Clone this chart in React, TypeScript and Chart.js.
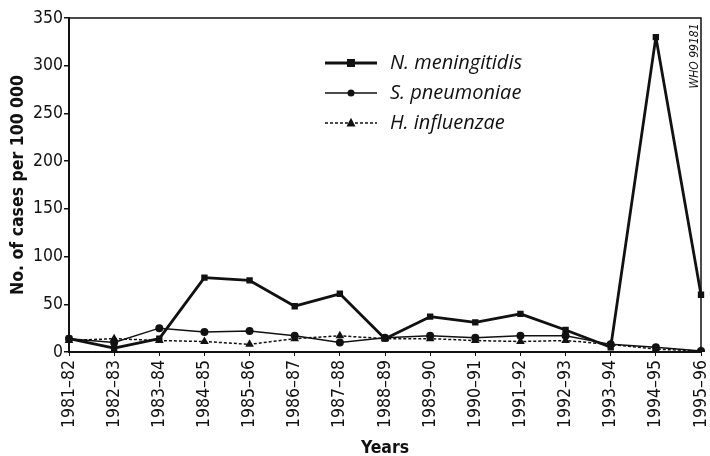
import React, { useEffect, useRef } from "react";
import { Chart, registerables } from "chart.js";

Chart.register(...registerables);

const categories = [
  "1981–82", "1982–83", "1983–84", "1984–85", "1985–86", "1986–87", "1987–88",
  "1988–89", "1989–90", "1990–91", "1991–92", "1992–93", "1993–94", "1994–95", "1995–96",
];
const nMeningitidis = [14, 4, 14, 78, 75, 48, 61, 14, 37, 31, 40, 23, 5, 330, 60];
const sPneumoniae = [14, 10, 25, 21, 22, 17, 10, 15, 17, 15, 17, 17, 8, 5, 1];
const hInfluenzae = [12, 14, 12, 11, 8, 14, 17, 14, 14, 12, 11, 12, 8, 3, 1];
const seriesLabels = ["N. meningitidis", "S. pneumoniae", "H. influenzae"];
const yTicks = [0, 50, 100, 150, 200, 250, 300, 350];

const FONT = "'DejaVu Sans Condensed', 'Liberation Sans Narrow', sans-serif";
const LEGEND_FONT = "'Open Sans', 'Noto Sans', sans-serif";

function drawMarker(ctx: CanvasRenderingContext2D, style: string, x: number, y: number, r: number) {
  ctx.beginPath();
  if (style === "rect") {
    ctx.rect(x - r, y - r, 2 * r, 2 * r);
  } else if (style === "circle") {
    ctx.arc(x, y, r, 0, Math.PI * 2);
  } else {
    ctx.moveTo(x, y - r * 1.15);
    ctx.lineTo(x + r, y + r * 0.75);
    ctx.lineTo(x - r, y + r * 0.75);
    ctx.closePath();
  }
  ctx.fill();
}

const framePlugin = {
  id: "frame",
  beforeDatasetsDraw(chart: any) {
    const { ctx, chartArea } = chart;
    ctx.save();
    ctx.strokeStyle = "#111";
    ctx.lineWidth = 1.5;
    ctx.beginPath();
    ctx.moveTo(chartArea.left, chartArea.top);
    ctx.lineTo(chartArea.right, chartArea.top);
    ctx.lineTo(chartArea.right, chartArea.bottom);
    ctx.stroke();
    ctx.restore();
  },
};

const legendPlugin = {
  id: "customLegend",
  afterDatasetsDraw(chart: any) {
    const { ctx } = chart;
    const x0 = 325;
    const x1 = 377;
    const textX = 390;
    const rowY = [63, 93, 123];
    ctx.save();
    chart.data.datasets.forEach((ds: any, i: number) => {
      const y = rowY[i];
      ctx.strokeStyle = ds.borderColor;
      ctx.fillStyle = ds.pointBackgroundColor;
      ctx.lineWidth = ds.borderWidth;
      ctx.setLineDash(ds.borderDash || []);
      ctx.beginPath();
      ctx.moveTo(x0, y);
      ctx.lineTo(x1, y);
      ctx.stroke();
      ctx.setLineDash([]);
      drawMarker(ctx, ds.pointStyle, (x0 + x1) / 2, y, ds.pointRadius - 0.5);
      ctx.fillStyle = "#111";
      ctx.font = `italic 20px ${LEGEND_FONT}`;
      ctx.textAlign = "left";
      ctx.textBaseline = "middle";
      ctx.fillText(ds.label, textX, y);
    });
    ctx.restore();
  },
};

const stampPlugin = {
  id: "stamp",
  afterDraw(chart: any) {
    const { ctx } = chart;
    ctx.save();
    ctx.translate(695, 56);
    ctx.rotate(-Math.PI / 2);
    ctx.font = `italic 12px ${FONT}`;
    ctx.fillStyle = "#111";
    ctx.textAlign = "center";
    ctx.textBaseline = "middle";
    ctx.fillText("WHO 99181", 0, 0);
    ctx.restore();
  },
};

export default function App() {
  const ref = useRef<HTMLCanvasElement>(null);
  useEffect(() => {
    if (!ref.current) return;
    const chart = new Chart(ref.current, {
      type: "line",
      data: {
        labels: categories,
        datasets: [
          {
            label: seriesLabels[0],
            data: nMeningitidis,
            borderColor: "#111",
            backgroundColor: "#111",
            pointBackgroundColor: "#111",
            pointBorderColor: "#111",
            borderWidth: 2.8,
            borderJoinStyle: "bevel",
            pointStyle: "rect",
            pointRadius: 4.5,
            pointBorderWidth: 0,
            tension: 0,
          },
          {
            label: seriesLabels[1],
            data: sPneumoniae,
            borderColor: "#111",
            backgroundColor: "#111",
            pointBackgroundColor: "#111",
            pointBorderColor: "#111",
            borderWidth: 1.5,
            pointStyle: "circle",
            pointRadius: 4,
            pointBorderWidth: 0,
            tension: 0,
          },
          {
            label: seriesLabels[2],
            data: hInfluenzae,
            borderColor: "#111",
            backgroundColor: "#111",
            pointBackgroundColor: "#111",
            pointBorderColor: "#111",
            borderWidth: 1.5,
            borderDash: [3, 2],
            pointStyle: "triangle",
            pointRadius: 5,
            pointBorderWidth: 0,
            tension: 0,
          },
        ] as any,
      },
      options: {
        animation: false,
        responsive: false,
        layout: { padding: { top: 18, right: 9, bottom: 0, left: 0 } },
        plugins: {
          legend: { display: false },
          tooltip: { enabled: false },
        },
        scales: {
          x: {
            type: "category",
            offset: false,
            grid: {
              drawOnChartArea: false,
              drawTicks: true,
              tickLength: 4,
              color: "#111",
              lineWidth: 1,
            },
            border: { display: true, color: "#111", width: 2 },
            ticks: {
              minRotation: 90,
              maxRotation: 90,
              autoSkip: false,
              padding: 4,
              color: "#111",
              font: { family: FONT, size: 17.5 },
            },
            title: {
              display: true,
              text: "Years",
              color: "#111",
              font: { family: FONT, size: 17.5, weight: "bold" },
              padding: { top: 0, bottom: -3 },
            },
            afterFit(scale: any) {
              scale.height = 104;
              scale.paddingLeft = 0;
              scale.paddingRight = 0;
            },
          },
          y: {
            min: 0,
            max: 350,
            afterBuildTicks(scale: any) {
              scale.ticks = yTicks.map((v) => ({ value: v }));
            },
            grid: {
              drawOnChartArea: false,
              drawTicks: true,
              tickLength: 5,
              color: "#111",
              lineWidth: 1.5,
            },
            border: { display: true, color: "#111", width: 2 },
            ticks: {
              padding: 1,
              color: "#111",
              font: { family: FONT, size: 17.5 },
            },
            title: {
              display: true,
              text: "No. of cases per 100 000",
              color: "#111",
              font: { family: FONT, size: 17.5, weight: "bold" },
              padding: { top: 8, bottom: 0 },
            },
            afterFit(scale: any) {
              scale.width = 69;
              scale.paddingTop = 0;
              scale.paddingBottom = 0;
            },
          },
        },
      } as any,
      plugins: [framePlugin, legendPlugin, stampPlugin],
    });
    return () => chart.destroy();
  }, []);
  return (
    <div style={{ position: "absolute", left: 0, top: 0, width: 710, height: 456, background: "#fff" }}>
      <canvas ref={ref} width={710} height={456} />
    </div>
  );
}
